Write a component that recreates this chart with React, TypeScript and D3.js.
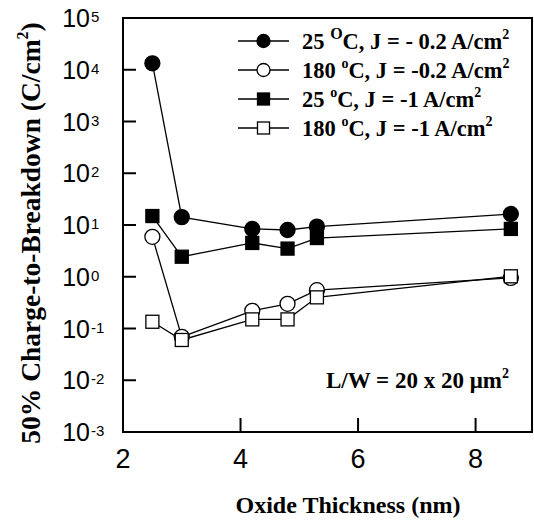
import React from "react";
import * as d3 from "d3";

// Oxide thickness (nm) of the measured devices
const thickness = [2.5, 3.0, 4.2, 4.8, 5.3, 8.6];

// 50% charge-to-breakdown (C/cm^2) for each stress condition
const qbd25Low = [13300, 14.2, 8.4, 8.0, 9.3, 16.3];
const qbd180Low = [5.9, 0.069, 0.22, 0.3, 0.55, 0.95];
const qbd25High = [14.9, 2.44, 4.5, 3.5, 5.6, 8.4];
const qbd180High = [0.135, 0.06, 0.15, 0.15, 0.4, 1.02];

const xTicks = [2, 4, 6, 8];
const yExponents = [5, 4, 3, 2, 1, 0, -1, -2, -3];

type Series = {
  values: number[];
  shape: "circle" | "square";
  filled: boolean;
  temp: string;
  degree: string;
  current: string;
};

const series: Series[] = [
  { values: qbd180Low, shape: "circle", filled: false, temp: "180 ", degree: "o", current: "C, J = -0.2 A/cm" },
  { values: qbd25Low, shape: "circle", filled: true, temp: "25 ", degree: "O", current: "C, J = - 0.2 A/cm" },
  { values: qbd180High, shape: "square", filled: false, temp: "180 ", degree: "o", current: "C, J = -1 A/cm" },
  { values: qbd25High, shape: "square", filled: true, temp: "25 ", degree: "o", current: "C, J = -1 A/cm" },
];
const legendOrder = [1, 0, 3, 2];

const W = 534;
const H = 524;
const left = 123;
const right = 532;
const top = 18;
const bottom = 432;

const serif = "'Liberation Serif', 'Times New Roman', serif";
const sans = "'Liberation Sans', Arial, Helvetica, sans-serif";

function Marker({ s, cx, cy, r, side }: { s: Series; cx: number; cy: number; r: number; side: number }) {
  const fill = s.filled ? "#000" : "#fff";
  if (s.shape === "circle") {
    return <circle cx={cx} cy={cy} r={r} fill={fill} stroke="#000" strokeWidth={1.3} />;
  }
  return (
    <rect x={cx - side / 2} y={cy - side / 2} width={side} height={side} fill={fill} stroke="#000" strokeWidth={1.3} />
  );
}

export default function App() {
  const x = d3.scaleLinear().domain([2, 8.96]).range([left, right]);
  const y = d3.scaleLog().domain([1e-3, 1e5]).range([bottom, top]);
  const line = d3
    .line<number>()
    .x((_, i) => x(thickness[i]))
    .y((v) => y(v));

  const tickLen = 13;

  return (
    <svg
      width={W}
      height={H}
      style={{ position: "absolute", left: 0, top: 0, background: "#fff" }}
    >
      {/* frame */}
      <rect x={left} y={top} width={right - left} height={bottom - top} fill="none" stroke="#000" strokeWidth={2} />

      {/* y ticks and labels */}
      {yExponents.map((e) => {
        const ty = y(Math.pow(10, e));
        return (
          <g key={e}>
            {e !== 5 && e !== -3 && (
              <line x1={left} x2={left + tickLen} y1={ty} y2={ty} stroke="#000" strokeWidth={2} />
            )}
            <text x={90} y={ty + 9} fontFamily={sans} fontSize={25} textAnchor="end">
              10
            </text>
            <text x={91} y={ty + 4} fontFamily={sans} fontSize={15}>
              {String(e)}
            </text>
          </g>
        );
      })}

      {/* x ticks and labels */}
      {xTicks.map((t) => (
        <g key={t}>
          {t !== 2 && (
            <line x1={x(t)} x2={x(t)} y1={bottom} y2={bottom - 14} stroke="#000" strokeWidth={2} />
          )}
          <text x={x(t)} y={468} fontFamily={sans} fontSize={27} textAnchor="middle">
            {t}
          </text>
        </g>
      ))}

      {/* series lines */}
      {series.map((s, k) => (
        <path key={k} d={line(s.values) || ""} fill="none" stroke="#000" strokeWidth={1.3} />
      ))}
      {/* series markers */}
      {series.map((s, k) => (
        <g key={k}>
          {s.values.map((v, i) => (
            <Marker key={i} s={s} cx={x(thickness[i])} cy={y(v)} r={7.5} side={13} />
          ))}
        </g>
      ))}

      {/* legend */}
      {legendOrder.map((k, row) => {
        const s = series[k];
        const ly = 41 + row * 29;
        return (
          <g key={row}>
            <line x1={238} x2={289} y1={ly} y2={ly} stroke="#000" strokeWidth={1.3} />
            <Marker s={s} cx={263.5} cy={ly} r={6.5} side={12} />
            <text x={302} y={ly + 7.5} fontFamily={serif} fontWeight="bold" fontSize={22.5}>
              {s.temp}
              <tspan dy={-10} fontSize={s.degree === "O" ? 16 : 14}>{s.degree}</tspan>
              <tspan dy={10}>{s.current}</tspan>
              <tspan dy={-10} fontSize={14}>2</tspan>
            </text>
          </g>
        );
      })}

      {/* device size note */}
      <text x={326} y={388} fontFamily={serif} fontWeight="bold" fontSize={23}>
        L/W = 20 x 20 μm
        <tspan dy={-10} fontSize={14}>2</tspan>
      </text>

      {/* axis titles */}
      <text x={348} y={513} fontFamily={serif} fontWeight="bold" fontSize={24} textAnchor="middle">
        Oxide Thickness (nm)
      </text>
      <text
        transform="translate(40,233) rotate(-90)"
        fontFamily={serif}
        fontWeight="bold"
        fontSize={27.5}
        textAnchor="middle"
      >
        50% Charge-to-Breakdown (C/cm
        <tspan dy={-12} fontSize={16}>2</tspan>
        <tspan dy={12}>)</tspan>
      </text>
    </svg>
  );
}
